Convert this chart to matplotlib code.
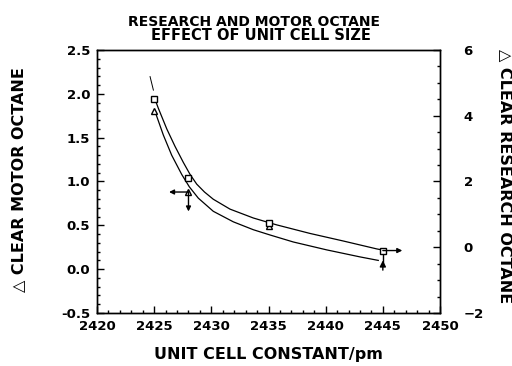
import matplotlib
matplotlib.use("Agg")
import matplotlib.pyplot as plt
from matplotlib.ticker import MultipleLocator, FormatStrFormatter

plt.rcParams['font.family'] = ['DejaVu Sans']
plt.rcParams['font.weight'] = 'bold'

# measured points
cell = [2425, 2428, 2435, 2445]
motor = [1.80, 0.88, 0.49, 0.07]      # triangles, left axis
research = [4.50, 2.12, 0.75, -0.10]  # squares, right axis

# fitted curves
res_curve_x = [2425.07, 2425.36, 2426.10, 2426.82, 2427.55, 2428.13, 2428.72, 2429.40,
               2430.17, 2431.63, 2433.67, 2434.93, 2435.72, 2438.63, 2441.54, 2444.46, 2445.04]
res_curve_y = [4.50, 4.23, 3.60, 3.07, 2.58, 2.22, 1.92, 1.68,
               1.46, 1.16, 0.89, 0.76, 0.68, 0.42, 0.19, -0.05, -0.09]
res_ext_x = [2424.64, 2424.93]
res_ext_y = [5.19, 4.78]

mot_curve_x = [2425.07, 2425.80, 2426.53, 2427.41, 2428.07, 2428.86, 2430.17, 2431.92,
               2433.67, 2435.13, 2437.17, 2440.09, 2443.0, 2444.6]
mot_curve_y = [1.80, 1.53, 1.30, 1.08, 0.94, 0.81, 0.66, 0.54,
               0.45, 0.39, 0.31, 0.22, 0.14, 0.10]

fig = plt.figure(figsize=(5.12, 3.66), dpi=100)
ax = fig.add_axes([0.1895, 0.1448, 0.6699, 0.7186])
ax2 = ax.twinx()

ax.set_xlim(2420, 2450)
ax.set_ylim(-0.5, 2.5)
ax2.set_ylim(-2, 6)

def right_to_left(v):
    # map a right-axis value onto the left axis scale
    lo, hi = ax2.get_ylim()
    lo2, hi2 = ax.get_ylim()
    return lo2 + (v - lo) / (hi - lo) * (hi2 - lo2)

ax.plot(mot_curve_x, mot_curve_y, color='black', lw=0.9)
ax.plot(cell[:3], motor[:3], linestyle='none', marker='^', ms=5, mfc='white', mec='black', mew=1)

ax2.plot(res_curve_x, res_curve_y, color='black', lw=0.9)
ax2.plot(res_ext_x, res_ext_y, color='black', lw=0.7)
ax2.plot(cell, research, linestyle='none', marker='s', ms=5, mfc='white', mec='black', mew=1, zorder=3)

# arrows pointing to the axis each series belongs to
arr = dict(arrowstyle='<|-', color='black', lw=1, mutation_scale=7, shrinkA=0, shrinkB=0)
ax.annotate('', xy=(cell[1], motor[1]), xytext=(-14, 0), textcoords='offset points', arrowprops=arr)
ax.annotate('', xy=(cell[1], motor[1]), xytext=(0, -14), textcoords='offset points', arrowprops=arr)
ax2.annotate('', xy=(cell[3], research[3]), xytext=(14, 0), textcoords='offset points', arrowprops=arr)

# last point: filled triangle as an up arrow on a line running to the square
ax.plot([cell[3], cell[3]], [motor[3], right_to_left(research[3])], color='black', lw=1)
ax.annotate('', xy=(cell[3], motor[3] + 0.03), xytext=(0, -7), textcoords='offset points',
            arrowprops=dict(arrowstyle='-|>', color='black', lw=1, mutation_scale=9,
                            shrinkA=0, shrinkB=0))

ax.xaxis.set_major_locator(MultipleLocator(5))
ax.xaxis.set_minor_locator(MultipleLocator(1))
ax.yaxis.set_major_locator(MultipleLocator(0.5))
ax.yaxis.set_minor_locator(MultipleLocator(0.1))
ax2.yaxis.set_major_locator(MultipleLocator(2))
ax2.yaxis.set_minor_locator(MultipleLocator(0.5))
ax.yaxis.set_major_formatter(FormatStrFormatter('%.1f'))

ax.tick_params(which='both', direction='in', top=False, right=False, labelsize=9.5, width=1)
ax.tick_params(which='major', length=5)
ax.tick_params(which='minor', length=2.5)
ax.tick_params(axis='x', pad=5)
ax.tick_params(axis='y', pad=5)
ax2.tick_params(which='both', direction='in', labelsize=9.5, width=1)
ax2.tick_params(which='major', length=5, pad=17)
ax2.tick_params(which='minor', length=2.5)

for a in (ax, ax2):
    for s in a.spines.values():
        s.set_linewidth(1)

ax.set_xlabel('UNIT CELL CONSTANT/pm', fontsize=11.5, fontweight='bold', labelpad=10)
fig.text(0.037, 0.51, '\u25b3 CLEAR MOTOR OCTANE', rotation=90, ha='center', va='center',
         fontsize=11.5, fontweight='bold')
fig.text(0.988, 0.52, '\u25b3 CLEAR RESEARCH OCTANE', rotation=270, ha='center', va='center',
         fontsize=11.5, fontweight='bold')
fig.text(0.496, 0.94, 'RESEARCH AND MOTOR OCTANE', ha='center', va='center', fontsize=10, fontweight='bold')
fig.text(0.51, 0.903, 'EFFECT OF UNIT CELL SIZE', ha='center', va='center', fontsize=10.5, fontweight='bold')

fig.savefig('out.png', dpi=100)
